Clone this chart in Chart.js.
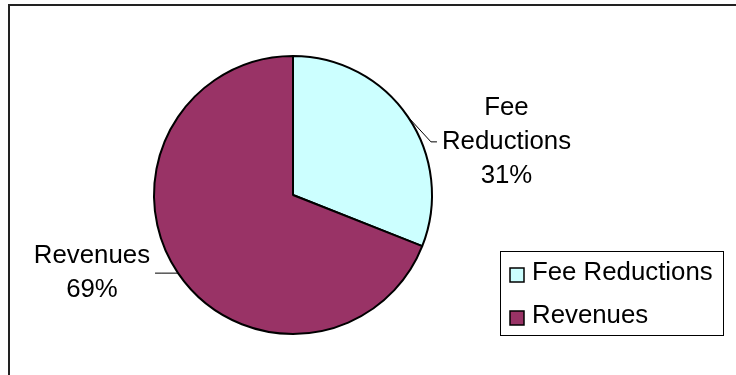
<!DOCTYPE html>
<html>
<head>
<meta charset="utf-8">
<script src="https://cdn.jsdelivr.net/npm/chart.js@4.4.1/dist/chart.umd.min.js"></script>
<style>
  html, body { margin: 0; padding: 0; background: #fff; }
  canvas { display: block; }
</style>
</head>
<body>
<canvas id="chart-fee-split" width="736" height="375"></canvas>
<script>
const CATEGORIES = ['Fee Reductions', 'Revenues'];
const SHARES = [31, 69];
const SLICE_COLORS = ['#ccffff', '#993366'];
// label text written beside each slice (percent is appended)
const SLICE_LABEL_LINES = [['Fee', 'Reductions'], ['Revenues']];

const FONT = '25.8px "Liberation Sans", Arial, sans-serif';

// thin frame around the plot, only top and left edges fall inside the canvas
const framePlugin = {
  id: 'frame',
  beforeDraw(chart) {
    const { ctx } = chart;
    ctx.save();
    ctx.strokeStyle = '#222';
    ctx.lineWidth = 2;
    ctx.beginPath();
    ctx.moveTo(9, chart.height + 5);
    ctx.lineTo(9, 5);
    ctx.lineTo(chart.width + 5, 5);
    ctx.stroke();
    ctx.restore();
  }
};

const sliceLabelsPlugin = {
  id: 'sliceLabels',
  afterDatasetsDraw(chart, args, opts) {
    const { ctx } = chart;
    const meta = chart.getDatasetMeta(0);
    const values = chart.data.datasets[0].data;
    const total = values.reduce((sum, v) => sum + v, 0);
    ctx.save();
    ctx.font = opts.font;
    ctx.fillStyle = '#000';
    ctx.strokeStyle = '#000';
    ctx.lineWidth = 1;
    ctx.textAlign = 'center';
    ctx.textBaseline = 'middle';
    meta.data.forEach((arc, i) => {
      const { x, y, startAngle, endAngle, outerRadius } =
        arc.getProps(['x', 'y', 'startAngle', 'endAngle', 'outerRadius'], true);
      const mid = (startAngle + endAngle) / 2;
      const ex = x + Math.cos(mid) * outerRadius;
      const ey = y + Math.sin(mid) * outerRadius;
      const right = Math.cos(mid) >= 0;
      const [dx, dy] = opts.bends[i];
      const bx = ex + dx;
      const by = ey + dy;
      const tx = bx + (right ? opts.tail : -opts.tail);

      ctx.beginPath();
      ctx.moveTo(ex, ey);
      ctx.lineTo(bx, by);
      ctx.lineTo(tx, by);
      ctx.stroke();

      const pct = Math.round((values[i] / total) * 100);
      const lines = [...SLICE_LABEL_LINES[i], `${pct}%`];
      const widest = Math.max(...lines.map((l) => ctx.measureText(l).width));
      const cx = right ? tx + opts.gap + widest / 2 : tx - opts.gap - widest / 2;
      const top = by - ((lines.length - 1) * opts.lineHeight) / 2;
      lines.forEach((line, k) => ctx.fillText(line, cx, top + k * opts.lineHeight));
    });
    ctx.restore();
  }
};

// legend inside a bordered box, anchored at its bottom-right corner
const boxedLegendPlugin = {
  id: 'boxedLegend',
  afterDraw(chart, args, opts) {
    const { ctx } = chart;
    const labels = chart.data.labels;
    const colors = chart.data.datasets[0].backgroundColor;
    ctx.save();
    ctx.font = opts.font;
    const textW = Math.max(...labels.map((l) => ctx.measureText(l).width));
    const w = Math.round(opts.padX + opts.swatch + opts.swatchGap + textW + opts.padX);
    const h = opts.rowHeight * labels.length - 2;
    const left = Math.round(opts.right - w);
    const top = opts.bottom - h;

    ctx.fillStyle = '#fff';
    ctx.fillRect(left, top, w, h);
    ctx.strokeStyle = '#000';
    ctx.lineWidth = 1;
    ctx.strokeRect(left + 0.5, top + 0.5, w, h);

    ctx.textAlign = 'left';
    ctx.textBaseline = 'middle';
    labels.forEach((label, i) => {
      const cy = top + opts.rowHeight / 2 + i * opts.rowHeight;
      const sx = left + opts.padX;
      const sy = Math.round(cy - opts.swatch / 2 + 2);
      ctx.fillStyle = colors[i];
      ctx.fillRect(sx, sy, opts.swatch, opts.swatch);
      ctx.strokeStyle = '#000';
      ctx.lineWidth = 1.5;
      ctx.strokeRect(sx, sy, opts.swatch, opts.swatch);
      ctx.fillStyle = '#000';
      ctx.fillText(label, sx + opts.swatch + opts.swatchGap, cy);
    });
    ctx.restore();
  }
};

const canvas = document.getElementById('chart-fee-split');
new Chart(canvas, {
  type: 'pie',
  data: {
    labels: CATEGORIES,
    datasets: [{
      data: SHARES,
      backgroundColor: SLICE_COLORS,
      borderColor: '#000',
      borderWidth: 2
    }]
  },
  options: {
    responsive: false,
    animation: false,
    devicePixelRatio: 1,
    layout: { padding: { top: 55, bottom: 40, left: 153, right: 303 } },
    plugins: {
      legend: { display: false },
      tooltip: { enabled: false },
      sliceLabels: {
        font: FONT,
        bends: [[23, 25], [-17, 0]],
        tail: 6,
        gap: 5,
        lineHeight: 34
      },
      boxedLegend: {
        font: FONT,
        right: 723,
        bottom: 335,
        padX: 10,
        swatch: 14,
        swatchGap: 8,
        rowHeight: 43
      }
    }
  },
  plugins: [framePlugin, sliceLabelsPlugin, boxedLegendPlugin]
});
</script>
</body>
</html>
